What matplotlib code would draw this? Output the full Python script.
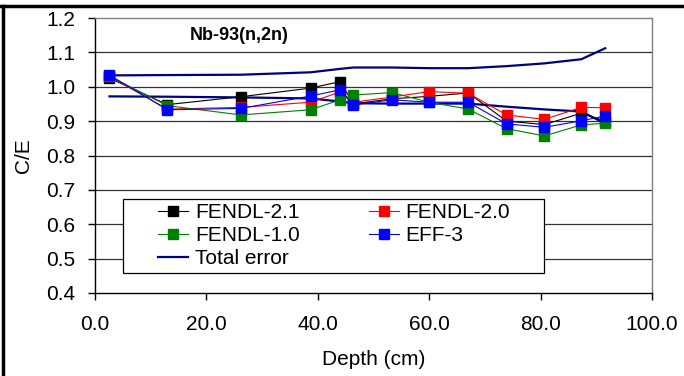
import matplotlib
matplotlib.use("Agg")
import matplotlib.pyplot as plt
from matplotlib.lines import Line2D
from matplotlib.patches import Rectangle

plt.rcParams['font.family'] = ['Liberation Sans', 'DejaVu Sans']

depth = [2.6, 13.0, 26.2, 38.7, 44.0, 46.4, 53.3, 60.0, 67.0, 73.9, 80.7, 87.3, 91.6]
fendl21 = [1.025, 0.948, 0.971, 0.996, 1.015, 0.950, 0.965, 0.972, 0.982, 0.900, 0.890, 0.923, 0.900]
fendl20 = [1.030, 0.935, 0.940, 0.955, 0.985, 0.955, 0.970, 0.986, 0.981, 0.918, 0.905, 0.940, 0.939]
fendl10 = [1.030, 0.945, 0.918, 0.933, 0.962, 0.976, 0.983, 0.955, 0.935, 0.878, 0.857, 0.889, 0.894]
eff3 = [1.034, 0.933, 0.937, 0.973, 0.991, 0.947, 0.962, 0.955, 0.955, 0.892, 0.882, 0.901, 0.915]
err_upper = [1.033, 1.034, 1.035, 1.042, 1.052, 1.056, 1.056, 1.054, 1.054, 1.060, 1.068, 1.080, 1.112]
err_lower = [0.972, 0.971, 0.969, 0.966, 0.957, 0.952, 0.951, 0.951, 0.951, 0.942, 0.934, 0.928, 0.893]

series = [
    ("FENDL-2.1", fendl21, "black"),
    ("FENDL-2.0", fendl20, "#FF0000"),
    ("FENDL-1.0", fendl10, "#008000"),
    ("EFF-3", eff3, "#0000FF"),
]
xticks = [0, 20, 40, 60, 80, 100]
xticklabels = ['0.0', '20.0', '40.0', '60.0', '80.0', '100.0']
yticks = [0.4, 0.5, 0.6, 0.7, 0.8, 0.9, 1.0, 1.1, 1.2]
yticklabels = ['0.4', '0.5', '0.6', '0.7', '0.8', '0.9', '1.0', '1.1', '1.2']

W, H = 684, 376
L, R, T, B = 95, 652, 18, 293
fig = plt.figure(figsize=(W/100, H/100), dpi=100)
ax = fig.add_axes([L/W, 1-B/H, (R-L)/W, (B-T)/H])
aw, ah = R-L, B-T

for y in yticks[1:-1]:
    ax.axhline(y, color='#333333', lw=0.9, zorder=0)

handles = {}
for name, vals, col in series:
    h, = ax.plot(depth, vals, color=col, lw=0.8, marker='s', ms=7,
                 mec=col, mfc=col, label=name, zorder=3)
    handles[name] = h
he, = ax.plot(depth, err_upper, color='#000080', lw=1.6, zorder=2)
ax.plot(depth, err_lower, color='#000080', lw=1.6, zorder=2)
handles['Total error'] = he

ax.set_xlim(0, 100)
ax.set_ylim(0.4, 1.2)
ax.set_xticks(xticks)
ax.set_xticklabels(xticklabels)
ax.set_yticks(yticks)
ax.set_yticklabels(yticklabels)
ax.tick_params(axis='both', direction='out', length=5, width=1, labelsize=15, colors='black')
ax.tick_params(axis='x', pad=11)
ax.tick_params(axis='y', pad=9)
for s in ['left', 'bottom']:
    ax.spines[s].set_color('black')
    ax.spines[s].set_linewidth(1)
for s in ['top', 'right']:
    ax.spines[s].set_color('#808080')
    ax.spines[s].set_linewidth(1)

ax.set_xlabel('Depth (cm)', fontsize=15)
ax.set_ylabel('C/E', fontsize=15)
ax.xaxis.set_label_coords(0.5, (B-350)/ah)
ax.yaxis.set_label_coords((33-L)/aw, 0.5)

ax.text((190-L)/aw, (B-35)/ah, 'Nb-93(n,2n)', transform=ax.transAxes, fontsize=13,
        fontweight='bold', ha='left', va='center')

# legend frame
ax.add_patch(Rectangle(((123-L)/aw, (B-273)/ah), (544-123)/aw, (273-199)/ah,
                       transform=ax.transAxes, facecolor='white', edgecolor='black',
                       lw=0.9, zorder=5))
order = ['FENDL-2.1', 'FENDL-1.0', 'Total error', 'FENDL-2.0', 'EFF-3']
leg = ax.legend([handles[k] for k in order], order,
                ncol=2, loc='upper left', bbox_to_anchor=((158-L)/aw, (B-203)/ah),
                fontsize=15, frameon=False,
                handlelength=1.45, handletextpad=0.33, columnspacing=3.3,
                labelspacing=0.2, borderpad=0.0, borderaxespad=0.0, markerscale=1.0)
leg.set_zorder(6)

# figure border lines (top and left)
fig.add_artist(Line2D([0, 1], [1-6/H, 1-6/H], color='black', lw=2.5, transform=fig.transFigure))
fig.add_artist(Line2D([3/W, 3/W], [0, 1-6/H], color='black', lw=2.5, transform=fig.transFigure))

fig.savefig('out.png', dpi=100)
